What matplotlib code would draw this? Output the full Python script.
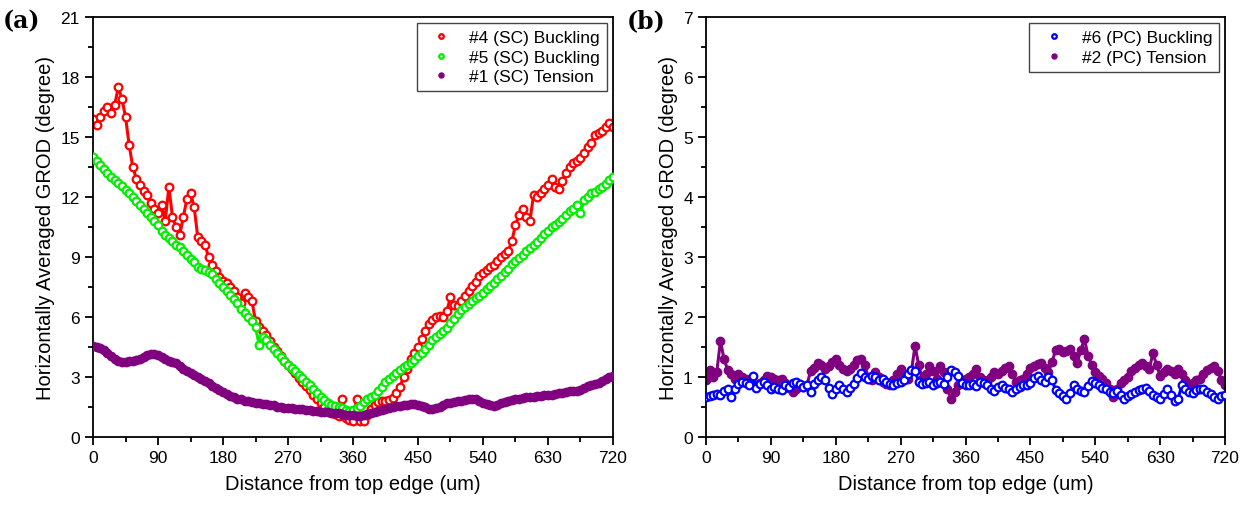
import numpy as np
import matplotlib
matplotlib.use("Agg")
from matplotlib import pyplot as plt
from matplotlib.ticker import MultipleLocator

plt.rcParams['font.family'] = ['Liberation Sans', 'DejaVu Sans']

# distance from top edge (um), sampled every 5 um
dist = np.arange(0, 721, 5)

# (a) single crystal
sc4_buckling = [
    15.9, 15.6, 16.0, 16.3, 16.5, 16.2, 16.6, 17.5, 16.9, 16.0,
    14.6, 13.5, 12.9, 12.6, 12.3, 12.1, 11.7, 11.4, 11.2, 11.6,
    10.8, 12.5, 11.0, 10.5, 10.1, 11.0, 11.9, 12.2, 11.5, 10.0,
    9.8, 9.6, 9.0, 8.6, 8.3, 8.0, 7.8, 7.7, 7.5, 7.3,
    7.0, 6.7, 7.2, 7.0, 6.8, 5.8, 5.5, 5.3, 5.1, 4.8,
    4.5, 4.3, 4.05, 3.8, 3.6, 3.4, 3.2, 2.95, 2.75, 2.55,
    2.35, 2.1, 1.9, 1.7, 1.5, 1.35, 1.25, 1.15, 1.05, 1.9,
    0.95, 0.85, 0.82, 1.9, 0.8, 0.8, 1.1, 1.4, 1.6, 1.75,
    1.8, 1.8, 1.85, 1.95, 2.2, 2.5, 3.0, 3.4, 3.9, 4.2,
    4.5, 4.9, 5.3, 5.65, 5.85, 6.0, 6.05, 6.0, 6.3, 7.0,
    6.6, 6.55, 6.8, 7.05, 7.3, 7.55, 7.75, 8.05, 8.2, 8.35,
    8.5, 8.6, 8.8, 9.0, 9.15, 9.3, 9.8, 10.6, 11.1, 11.4,
    11.0, 10.8, 12.1, 12.0, 12.2, 12.4, 12.6, 12.9, 12.5, 12.4,
    12.8, 13.2, 13.5, 13.7, 13.8, 13.95, 14.2, 14.5, 14.7, 15.1,
    15.2, 15.3, 15.5, 15.7, 15.5]

sc5_buckling = [
    14.0, 13.8, 13.6, 13.4, 13.2, 13.0, 12.85, 12.7, 12.55, 12.35,
    12.2, 12.0, 11.8, 11.6, 11.4, 11.2, 11.0, 10.8, 10.6, 10.3,
    10.1, 9.95, 9.8, 9.6, 9.5, 9.3, 9.1, 8.9, 8.75, 8.5,
    8.4, 8.35, 8.25, 8.15, 7.9, 7.7, 7.5, 7.3, 7.1, 6.9,
    6.7, 6.4, 6.2, 6.0, 5.8, 5.5, 4.6, 5.0, 4.85, 4.6,
    4.4, 4.2, 4.0, 3.8, 3.6, 3.45, 3.3, 3.1, 2.95, 2.75,
    2.6, 2.4, 2.2, 2.0, 1.85, 1.7, 1.6, 1.55, 1.5, 1.45,
    1.35, 1.3, 1.35, 1.45, 1.55, 1.75, 1.9, 2.0, 2.1, 2.3,
    2.5, 2.75, 2.9, 3.05, 3.2, 3.35, 3.5, 3.6, 3.7, 3.85,
    4.05, 4.2, 4.4, 4.6, 4.85, 5.0, 5.15, 5.3, 5.45, 5.7,
    5.9, 6.15, 6.35, 6.5, 6.65, 6.8, 6.95, 7.05, 7.2, 7.4,
    7.55, 7.7, 7.9, 8.05, 8.25, 8.4, 8.65, 8.8, 8.95, 9.1,
    9.3, 9.45, 9.6, 9.75, 9.95, 10.15, 10.3, 10.5, 10.6, 10.75,
    10.9, 11.1, 11.3, 11.4, 11.6, 11.2, 11.85, 12.0, 12.2, 12.25,
    12.4, 12.5, 12.65, 12.85, 13.0]

sc1_tension = [
    4.55, 4.5, 4.45, 4.35, 4.2, 4.05, 3.9, 3.8, 3.75, 3.75,
    3.8, 3.8, 3.85, 3.9, 4.0, 4.1, 4.15, 4.15, 4.1, 4.0,
    3.9, 3.8, 3.75, 3.7, 3.55, 3.4, 3.3, 3.2, 3.1, 3.0,
    2.9, 2.8, 2.7, 2.55, 2.45, 2.35, 2.25, 2.15, 2.05, 1.98,
    1.92, 1.88, 1.82, 1.78, 1.74, 1.7, 1.68, 1.66, 1.64, 1.62,
    1.58, 1.52, 1.48, 1.47, 1.45, 1.43, 1.42, 1.4, 1.38, 1.35,
    1.33, 1.3, 1.28, 1.26, 1.24, 1.23, 1.22, 1.2, 1.18, 1.15,
    1.12, 1.1, 1.08, 1.07, 1.05, 1.1, 1.15, 1.2, 1.25, 1.3,
    1.35, 1.4, 1.45, 1.5, 1.55, 1.57, 1.6, 1.62, 1.64, 1.65,
    1.62, 1.55, 1.48, 1.42, 1.4, 1.45, 1.52, 1.6, 1.68, 1.72,
    1.75, 1.78, 1.82, 1.85, 1.88, 1.9, 1.88, 1.82, 1.72, 1.65,
    1.58, 1.55, 1.6, 1.68, 1.75, 1.8, 1.85, 1.9, 1.92, 1.95,
    1.98, 2.0, 2.02, 2.05, 2.05, 2.08, 2.1, 2.12, 2.15, 2.2,
    2.22, 2.25, 2.28, 2.3, 2.3, 2.35, 2.45, 2.55, 2.6, 2.65,
    2.7, 2.8, 2.9, 3.0, 3.05]

# (b) polycrystal
pc6_buckling = [
    0.66, 0.68, 0.7, 0.72, 0.7, 0.76, 0.8, 0.66, 0.8, 0.88,
    0.92, 0.9, 0.86, 1.02, 0.82, 0.88, 0.92, 0.86, 0.8, 0.84,
    0.8, 0.78, 0.86, 0.84, 0.9, 0.92, 0.88, 0.84, 0.86, 0.75,
    0.88, 0.95, 1.0, 0.95, 0.82, 0.72, 0.8, 0.86, 0.8, 0.75,
    0.82, 0.88, 0.98, 1.06, 1.0, 0.97, 1.02, 1.0, 0.95, 0.97,
    0.92, 0.88, 0.86, 0.9, 0.92, 0.95, 1.05, 1.12, 1.1, 0.92,
    0.88, 0.9, 0.91, 0.86, 0.9, 0.91, 0.88, 1.0, 1.12, 1.08,
    1.02, 0.9, 0.86, 0.86, 0.88, 0.85, 0.91, 0.9, 0.86, 0.8,
    0.76, 0.84, 0.86, 0.82, 0.8, 0.75, 0.8, 0.84, 0.86, 0.86,
    0.9, 0.98, 1.02, 0.95, 0.92, 1.0, 0.95, 0.78, 0.74, 0.68,
    0.64, 0.74, 0.86, 0.8, 0.76, 0.75, 0.85, 0.94, 0.9, 0.86,
    0.82, 0.8, 0.75, 0.74, 0.76, 0.7, 0.64, 0.68, 0.72, 0.75,
    0.78, 0.8, 0.82, 0.76, 0.7, 0.66, 0.63, 0.72, 0.8, 0.7,
    0.6, 0.64, 0.86, 0.8, 0.75, 0.74, 0.78, 0.8, 0.8, 0.75,
    0.72, 0.66, 0.63, 0.68, 0.7]

pc2_tension = [
    0.95, 1.12, 1.0, 1.08, 1.6, 1.3, 1.12, 1.05, 0.97, 1.05,
    1.0, 0.97, 0.92, 0.88, 0.86, 0.9, 0.95, 1.02, 1.0, 0.97,
    0.95, 0.97, 0.9, 0.82, 0.75, 0.8, 0.86, 0.84, 0.86, 1.1,
    1.15, 1.24, 1.2, 1.13, 1.18, 1.25, 1.3, 1.2, 1.13, 1.1,
    1.13, 1.2, 1.28, 1.3, 1.2, 1.0, 0.95, 1.08, 1.0, 0.92,
    0.88, 0.86, 0.95, 1.05, 1.13, 1.05, 0.97, 1.1, 1.52, 1.2,
    0.97, 1.05, 1.19, 1.1, 0.97, 1.19, 1.08, 0.8, 0.63, 0.75,
    0.86, 0.9, 0.97, 1.0, 1.05, 1.13, 1.0, 0.95, 0.91, 1.0,
    1.08, 1.05, 1.1, 1.15, 1.19, 1.05, 0.91, 0.95, 0.97, 1.05,
    1.15, 1.19, 1.22, 1.24, 1.15, 1.08, 1.25, 1.45, 1.47, 1.41,
    1.44, 1.47, 1.35, 1.24, 1.45, 1.63, 1.35, 1.2, 1.08, 1.02,
    0.97, 0.9, 0.8, 0.66, 0.8, 0.9, 0.95, 1.0, 1.1, 1.15,
    1.2, 1.24, 1.18, 1.13, 1.4, 1.2, 1.02, 1.08, 1.13, 1.1,
    1.05, 1.13, 1.05, 0.95, 0.86, 0.9, 0.95, 0.97, 1.05, 1.12,
    1.15, 1.19, 1.1, 0.95, 0.86]

xticks = [0, 90, 180, 270, 360, 450, 540, 630, 720]


def scatter_band(ax, y, color, label, hollow, z=2):
    # thin line of the same colour behind the markers so the dense band reads as one
    ax.plot(dist, y, '-', color=color, lw=2.2, zorder=z)
    if hollow:
        ax.plot(dist, y, 'o', ms=5.5, mfc='white', mec=color, mew=1.6,
                label=label, zorder=z + 0.5)
    else:
        ax.plot(dist, y, 'o', ms=6, color=color, mec=color,
                label=label, zorder=z + 0.5)


fig = plt.figure(figsize=(12.54, 5.10), dpi=100)
ax1 = fig.add_axes([0.0742, 0.1412, 0.4146, 0.8235])
ax2 = fig.add_axes([0.5630, 0.1412, 0.4139, 0.8235])

scatter_band(ax1, sc4_buckling, '#ff0000', '#4 (SC) Buckling', True, 2)
scatter_band(ax1, sc5_buckling, '#00ee00', '#5 (SC) Buckling', True, 3)
scatter_band(ax1, sc1_tension, '#800080', '#1 (SC) Tension', False, 4)

scatter_band(ax2, pc2_tension, '#800080', '#2 (PC) Tension', False, 2)
scatter_band(ax2, pc6_buckling, '#0000ff', '#6 (PC) Buckling', True, 3)

for ax, ymax, ystep in [(ax1, 21, 3), (ax2, 7, 1)]:
    ax.set_xlim(0, 720)
    ax.set_ylim(0, ymax)
    ax.set_xticks(xticks)
    ax.xaxis.set_minor_locator(MultipleLocator(45))
    ax.yaxis.set_major_locator(MultipleLocator(ystep))
    ax.yaxis.set_minor_locator(MultipleLocator(ystep / 2))
    ax.tick_params(which='major', direction='out', length=6, width=1.3, labelsize=12.5)
    ax.tick_params(which='minor', direction='out', length=3.5, width=1.3)
    for s in ax.spines.values():
        s.set_linewidth(1.3)
    ax.set_xlabel('Distance from top edge (um)', fontsize=14.5, labelpad=6)
    ax.set_ylabel('Horizontally Averaged GROD (degree)', fontsize=14.5, labelpad=4)

# legend order as in the figure
h1, l1 = ax1.get_legend_handles_labels()
h2, l2 = ax2.get_legend_handles_labels()
for ax, h, l in [(ax1, h1, l1), (ax2, h2[::-1], l2[::-1])]:
    leg = ax.legend(h, l, loc='upper right', fontsize=12.5, numpoints=1, markerscale=0.6,
                    fancybox=False, edgecolor='#444444', framealpha=1,
                    borderaxespad=0.35, handletextpad=0.6, labelspacing=0.25)
    leg.get_frame().set_linewidth(1.0)

fig.text(0.002, 0.945, '(a)', fontsize=17, fontweight='bold', family='DejaVu Serif')
fig.text(0.500, 0.945, '(b)', fontsize=17, fontweight='bold', family='DejaVu Serif')

fig.savefig('out.png', dpi=100)
